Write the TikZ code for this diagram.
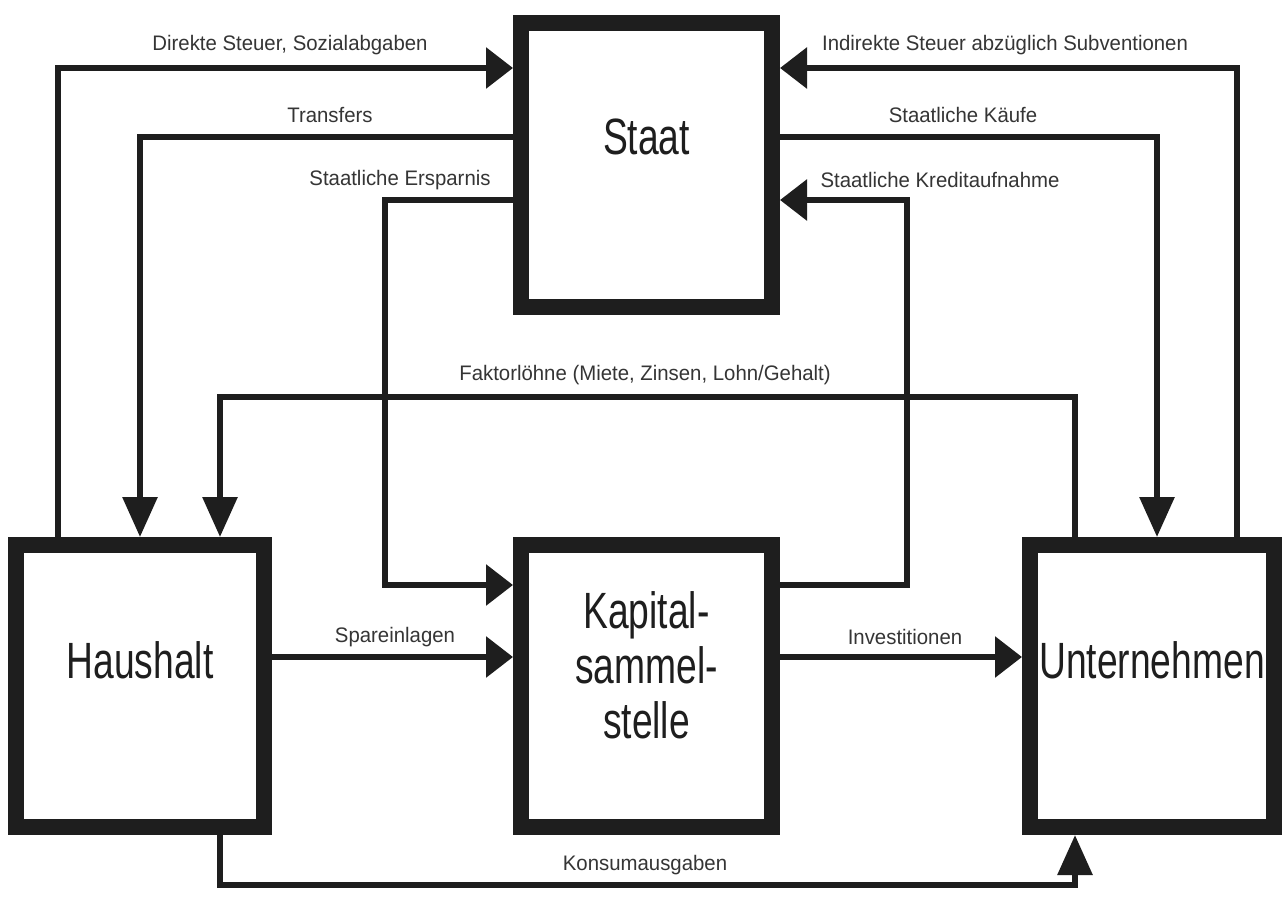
\documentclass[tikz,border=0pt]{standalone}
\usepackage{fontspec}
\setmainfont{Liberation Sans}
\newfontfamily\boxfont[FakeStretch=0.73]{Liberation Sans}
\newfontfamily\lblfont[FakeStretch=0.97]{Liberation Sans}
\usetikzlibrary{arrows.meta}
\definecolor{ink}{HTML}{1E1E1E}
\begin{document}
\begin{tikzpicture}[x=1pt,y=-1pt,
  box/.style={draw=ink, line width=16pt, inner sep=0pt},
  boxtxt/.style={font=\boxfont\fontsize{51}{55}\selectfont, text=ink, align=center, inner sep=0pt},
  conn/.style={draw=ink, line width=6pt},
  harr/.style={conn, -{Triangle[length=27pt,width=40pt]}},
  varr/.style={conn, -{Triangle[length=40pt,width=34pt]}},
  lbl/.style={font=\lblfont\fontsize{21}{25}\selectfont, text=ink!90, inner sep=0pt}]
\useasboundingbox[fill=white] (0,0) rectangle (1282,918);

% boxes
\node[box, minimum width=251pt, minimum height=284pt] (staat) at (646.5,165) {};
\node[box, minimum width=248pt, minimum height=282pt] (haus) at (140,686) {};
\node[box, minimum width=251pt, minimum height=282pt] (kap) at (646.5,686) {};
\node[box, minimum width=244pt, minimum height=282pt] (unt) at (1152,686) {};

\node[boxtxt] (staatT) at (646.5,137) {Staat};
\node[boxtxt] (hausT) at (140,660) {Haushalt};
\node[boxtxt] (kapT) at (646.5,665) {Kapital-\\sammel-\\stelle};
\node[boxtxt] (untT) at (1152,660) {Unternehmen};

% helper coordinates
\coordinate (p1) at (58,68);
\coordinate (p2) at (140,137);
\coordinate (p3) at (385,200);
\coordinate (p3b) at (385,585);
\coordinate (p4) at (1237,68);
\coordinate (p5) at (1157,137);
\coordinate (p6) at (907,585);
\coordinate (p6b) at (907,200);
\coordinate (p7a) at (1075,397);
\coordinate (p7b) at (220,397);
\coordinate (p8) at (0,657);
\coordinate (p10a) at (220,885);
\coordinate (p10b) at (1075,885);

% connectors
\draw[harr] (haus.north -| p1) |- (staat.west |- p1);
\draw[varr] (staat.west |- p2) -| (haus.north -| p2);
\draw[harr] (staat.west |- p3) -| (p3b) -- (kap.west |- p3b);
\draw[harr] (unt.north -| p4) |- (staat.east |- p4);
\draw[varr] (staat.east |- p5) -| (unt.north -| p5);
\draw[harr] (kap.east |- p6) -| (p6b) -- (staat.east |- p6b);
\draw[varr] (unt.north -| p7a) |- (p7b) -- (haus.north -| p7b);
\draw[harr] (haus.east |- p8) -- (kap.west |- p8);
\draw[harr] (kap.east |- p8) -- (unt.west |- p8);
\draw[varr] (haus.south -| p10a) -- (p10a) -- (p10b) -- (unt.south -| p10b);

% labels
\node[lbl] (l1) at (290,45) {Direkte Steuer, Sozialabgaben};
\node[lbl] (l2) at (330,115) {Transfers};
\node[lbl] (l3) at (400,180) {Staatliche Ersparnis};
\node[lbl] (l4) at (1005,45) {Indirekte Steuer abzüglich Subventionen};
\node[lbl] (l5) at (963,115) {Staatliche Käufe};
\node[lbl] (l6) at (940,180) {Staatliche Kreditaufnahme};
\node[lbl] (l7) at (645,375) {Faktorlöhne (Miete, Zinsen, Lohn/Gehalt)};
\node[lbl] (l8) at (395,637) {Spareinlagen};
\node[lbl] (l9) at (905,637) {Investitionen};
\node[lbl] (l10) at (645,865) {Konsumausgaben};
\end{tikzpicture}
\end{document}
